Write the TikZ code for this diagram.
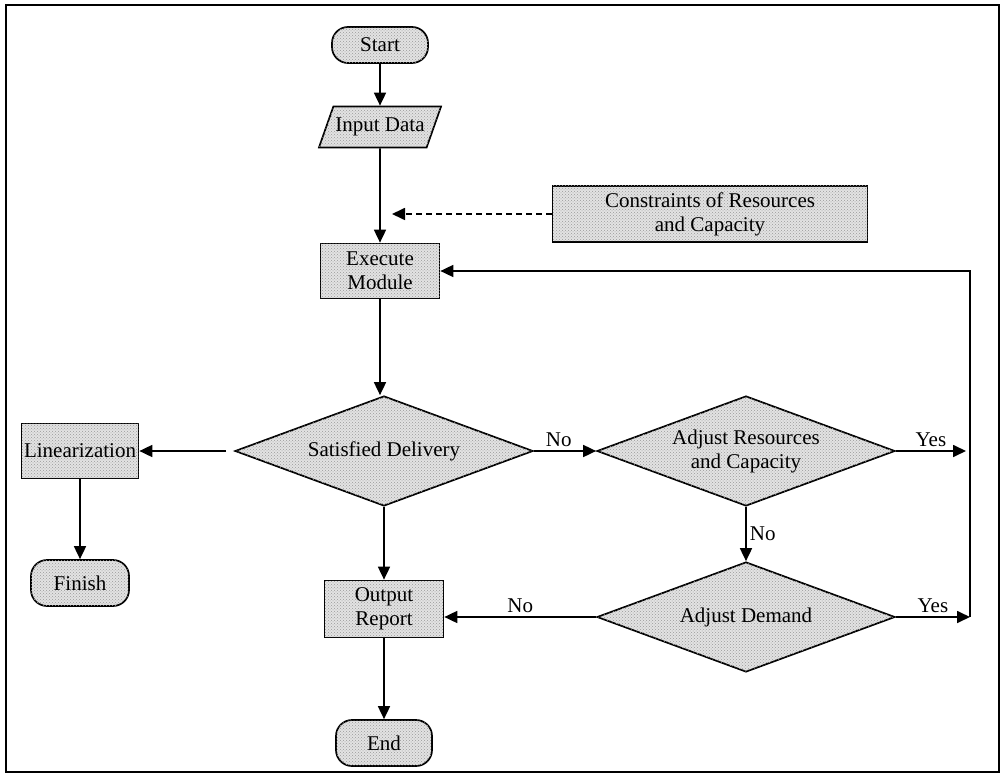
\documentclass[tikz,border=0pt]{standalone}
\usepackage{fontspec}
\setmainfont{Liberation Serif}
\usetikzlibrary{shapes.geometric,arrows.meta,patterns}
\begin{document}
\begin{tikzpicture}[x=1pt,y=-1pt,
  every node/.style={font=\fontsize{21}{24}\selectfont},
  shaded/.style={draw,line width=1.7pt,fill=gray!22,postaction={pattern=crosshatch dots,pattern color=gray!80}},
  box/.style={shaded,rectangle,minimum width=119pt,minimum height=55pt,align=center,inner sep=2pt},
  term/.style={shaded,rectangle,rounded corners=16pt,minimum width=96pt,minimum height=36pt,inner sep=2pt},
  dec/.style={shaded,diamond,aspect=2.7,minimum width=298pt,minimum height=110pt,inner sep=0pt,align=center},
  io/.style={shaded,trapezium,trapezium left angle=57,trapezium right angle=123,trapezium stretches=true,minimum width=119pt,minimum height=41pt,inner sep=2pt},
  arr/.style={line width=1.7pt,-{Triangle[length=13pt,width=12pt]}},
  lbl/.style={inner sep=3pt}
]
\useasboundingbox (0,0) rectangle (1004,778);
\draw[line width=1.7pt] (6,5) rectangle (999,772);

\node[term] (start) at (380,45) {Start};
\node[io] (input) at (380,127) {Input Data};
\node[box,minimum width=315pt,minimum height=56pt] (cons) at (710,214) {Constraints of Resources\\and Capacity};
\node[box] (exec) at (380,271) {Execute\\Module};
\node[dec] (sat) at (384,451) {Satisfied Delivery};
\node[box,minimum width=117pt] (lin) at (80,451) {Linearization};
\node[term,minimum width=98pt,minimum height=46pt] (fin) at (80,583) {Finish};
\node[dec] (adjr) at (746,451) {Adjust Resources\\and Capacity};
\node[dec] (adjd) at (746,617) {Adjust Demand};
\node[box,minimum height=57pt] (out) at (384,609) {Output\\Report};
\node[term,minimum height=46pt] (end) at (384,743) {End};

\coordinate (dtip) at (392,214);
\coordinate (yes1) at (966,451);
\coordinate (loop) at (970,617);
\coordinate (topmid) at (exec.south -| sat.north);

\draw[arr] (start) -- (input);
\draw[arr] (input) -- (exec);
\draw[arr,dash pattern=on 6pt off 4pt] (cons.west) -- (dtip);
\draw[arr] (exec.south) -- (exec.south |- sat.north);
\draw[arr,shorten <=8pt] (sat.west) -- (lin.east);
\draw[arr] (lin) -- (fin);
\draw[arr] (sat.east) -- node[lbl,above,pos=0.4]{No} (adjr.west);
\draw[arr] (adjr.east) -- node[lbl,above]{Yes} (yes1);
\draw[arr] (adjr.south) -- node[lbl,right]{No} (adjd.north);
\draw[arr] (adjd.east) -- node[lbl,above]{Yes} (loop);
\draw[arr] (loop) |- (exec.east);
\draw[arr] (adjd.west) -- node[lbl,above]{No} (adjd.west -| out.east);
\draw[arr] (sat.south) -- (out.north);
\draw[arr] (out) -- (end);
\end{tikzpicture}
\end{document}
